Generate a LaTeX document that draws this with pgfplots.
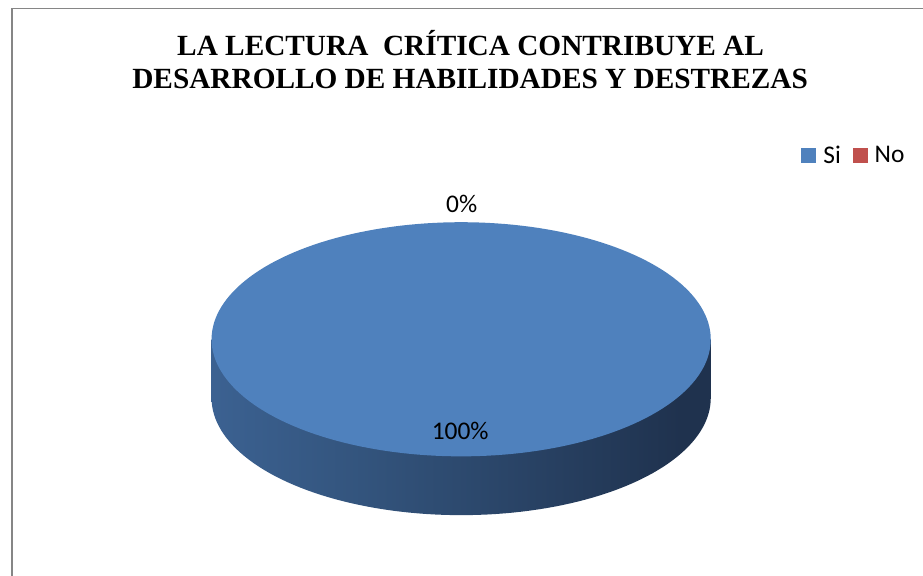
\documentclass[border=0pt]{standalone}
\usepackage{pgfplots}
\usepackage{pgfplotstable}
\pgfplotsset{compat=1.18}
\usepackage{fontspec}
\newfontfamily\carlito{Carlito}
\newfontfamily\timesb{Liberation Serif}
\definecolor{siblue}{RGB}{79,129,189}
\definecolor{nored}{RGB}{192,80,77}
\definecolor{frame}{RGB}{134,134,134}
\pgfdeclarehorizontalshading{sideshade}{100bp}{%
  rgb(0bp)=(0.29,0.47,0.70);
  rgb(8bp)=(0.27,0.44,0.66);
  rgb(40bp)=(0.20,0.33,0.49);
  rgb(72bp)=(0.122,0.196,0.306);
  rgb(100bp)=(0.122,0.196,0.306)}

\pgfplotstableread{
label value
Si 100
No 0
}\piedata

\begin{document}
\pgfplotstablegetelem{0}{value}\of\piedata
\let\vSi\pgfplotsretval
\pgfplotstablegetelem{1}{value}\of\piedata
\let\vNo\pgfplotsretval
\pgfmathsetmacro\endSi{90-3.6*\vSi}
\begin{tikzpicture}
\begin{axis}[
  name=ax,
  scale only axis, width=923bp, height=578bp,
  xmin=0, xmax=923, ymin=0, ymax=578,
  hide axis, clip=true,
  legend style={draw=none, fill=none, inner sep=0pt, outer sep=0pt,
    font=\carlito\fontsize{25.5bp}{30bp}\selectfont,
    legend columns=2, at={(axis cs:801,422)}, anchor=west,
    /tikz/every odd column/.append style={column sep=5bp},
    /tikz/every even column/.append style={column sep=10bp}},
  legend image code/.code={\fill[#1, draw=none] (0bp,-7.5bp) rectangle (15bp,7.5bp);},
]
% frame
\addplot[frame, line width=1.6bp, forget plot] coordinates {(8.5,0) (8.5,569.5) (923,569.5)};
% side of the pie
\addplot[draw=none, shading=sideshade, domain=0:360, samples=181, variable=\t, forget plot]
  ({459.5+250.5*cos(t)}, {178.5+117.5*sin(t)});
\addplot[draw=none, shading=sideshade, forget plot]
  coordinates {(209,178.5) (710,178.5) (710,237.5) (209,237.5)} -- cycle;
% top face: Si
\addplot[draw=none, fill=siblue, domain=\endSi:90, samples=181, variable=\t, forget plot]
  ({459.5+250.5*cos(t)}, {237.5+117.5*sin(t)});
\addlegendimage{fill=siblue}
\addlegendentry{Si}
\addlegendimage{fill=nored}
\addlegendentry{No}
% labels
\node[anchor=base, font=\carlito\fontsize{25.5bp}{30bp}\selectfont, inner sep=0pt] at (axis cs:460,365) {\vNo\%};
\node[anchor=base, font=\carlito\fontsize{25.5bp}{30bp}\selectfont, inner sep=0pt] at (axis cs:458.5,137) {\vSi\%};
% title
\node[anchor=base, font=\timesb\bfseries\fontsize{29.4bp}{33bp}\selectfont, inner sep=0pt] at (axis cs:469,522.5) {LA LECTURA\ \ CRÍTICA CONTRIBUYE AL};
\node[anchor=base, font=\timesb\bfseries\fontsize{29.4bp}{33bp}\selectfont, inner sep=0pt] at (axis cs:468.5,489.5) {DESARROLLO DE HABILIDADES Y DESTREZAS};
\end{axis}
\pgfresetboundingbox
\useasboundingbox (ax.south west) rectangle (ax.north east);
\end{tikzpicture}
\end{document}
